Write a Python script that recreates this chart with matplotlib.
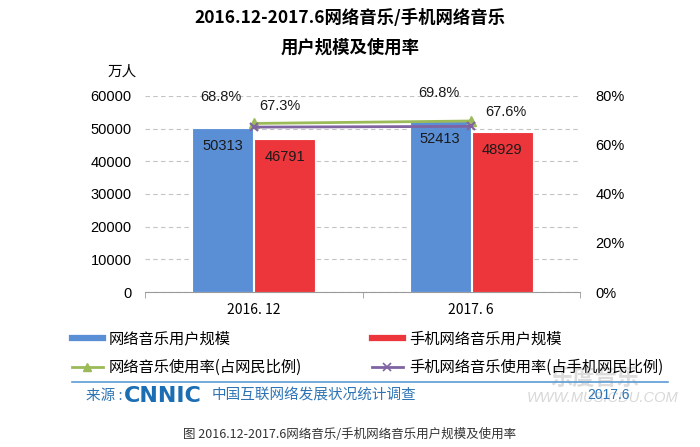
import matplotlib
matplotlib.use("Agg")
import matplotlib.pyplot as plt
from matplotlib.lines import Line2D
import numpy as np

plt.rcParams['font.family'] = ['Liberation Sans', 'Noto Sans CJK SC', 'DejaVu Sans']

categories = ['2016. 12', '2017. 6']
music_users = [50313, 52413]
mobile_users = [46791, 48929]
music_rate = [0.688, 0.698]
mobile_rate = [0.673, 0.676]
left_ticks = [0, 10000, 20000, 30000, 40000, 50000, 60000]
right_ticks = [0, 0.2, 0.4, 0.6, 0.8]
right_labels = ['0%', '20%', '40%', '60%', '80%']

BLUE = '#5A8FD6'
RED = '#EC363C'
GREEN = '#9BBB59'
PURPLE = '#8064A2'
CJK = ['Noto Sans CJK SC', 'DejaVu Sans']

fig = plt.figure(figsize=(7, 4.47), dpi=100)
fig.patch.set_facecolor('white')

ax = fig.add_axes([145/700, 1-292/447, 435/700, 196/447])
ax.set_facecolor('none')
x = np.arange(len(categories))
w = 0.28
b1 = ax.bar(x - 0.1425, music_users, w, color=BLUE, edgecolor='white', linewidth=0.8, zorder=3)
b2 = ax.bar(x + 0.1425, mobile_users, w, color=RED, edgecolor='white', linewidth=0.8, zorder=3)
ax.set_xlim(-0.5, 1.5)
ax.set_ylim(0, 60000)
ax.set_yticks(left_ticks)
ax.set_yticklabels([str(v) for v in left_ticks], fontsize=10.5)
ax.tick_params(axis='y', length=0, pad=9.5)
ax.set_xticks(x)
ax.set_xticklabels(categories, fontsize=10, family=CJK)
ax.tick_params(axis='x', length=0, pad=8)
ax.set_xticks([-0.5, 0.5, 1.5], minor=True)
ax.tick_params(axis='x', which='minor', length=4, color='#9a9a9a', direction='out')
for s in ['top', 'left', 'right']:
    ax.spines[s].set_visible(False)
ax.spines['bottom'].set_color('#9a9a9a')
ax.yaxis.grid(True, color='#c4c4c4', linestyle=(0, (4, 3)), linewidth=0.8, zorder=0)
ax.set_axisbelow(True)

for rect, v in zip(list(b1) + list(b2), music_users + mobile_users):
    ax.annotate(str(v), (rect.get_x() + rect.get_width() / 2, v), xytext=(0, -13),
                textcoords='offset points', ha='center', va='center', fontsize=10.5, color='#1a1a1a', zorder=5)

ax2 = ax.twinx()
ax2.set_ylim(0, 0.8)
ax2.set_yticks(right_ticks)
ax2.set_yticklabels(right_labels, fontsize=10.5)
ax2.tick_params(axis='y', length=0, pad=11)
for s in ['top', 'left', 'right', 'bottom']:
    ax2.spines[s].set_visible(False)
ax2.plot(x, music_rate, color=GREEN, lw=2, marker='^', ms=7, zorder=4)
ax2.plot(x, mobile_rate, color=PURPLE, lw=2, marker='x', ms=6, mew=1.5, zorder=4)

# rate labels
ax2.annotate('68.8%', (x[0], music_rate[0]), xytext=(-24, 19), textcoords='offset points',
             ha='center', va='center', fontsize=10.5, color='#1a1a1a')
ax2.annotate('67.3%', (x[0], mobile_rate[0]), xytext=(19, 15), textcoords='offset points',
             ha='center', va='center', fontsize=10.5, color='#1a1a1a')
ax2.annotate('69.8%', (x[1], music_rate[1]), xytext=(-23, 20), textcoords='offset points',
             ha='center', va='center', fontsize=10.5, color='#1a1a1a')
ax2.annotate('67.6%', (x[1], mobile_rate[1]), xytext=(25, 10), textcoords='offset points',
             ha='center', va='center', fontsize=10.5, color='#1a1a1a')

# titles
fig.text(350/700, 1-18/447, '2016.12-2017.6网络音乐/手机网络音乐', ha='center', va='center',
         fontsize=12.5, fontweight='bold', family=CJK)
fig.text(350/700, 1-48/447, '用户规模及使用率', ha='center', va='center',
         fontsize=12.5, fontweight='bold', family=CJK)
fig.text(122/700, 1-72/447, '万人', ha='center', va='center', fontsize=10.5, family=CJK)

# legend
handles = [Line2D([], [], color=BLUE, lw=4.5),
           Line2D([], [], color=GREEN, lw=2, marker='^', ms=6),
           Line2D([], [], color=RED, lw=4.5),
           Line2D([], [], color=PURPLE, lw=2, marker='x', ms=6, mew=1.2)]
labels = ['网络音乐用户规模', '网络音乐使用率(占网民比例)', '手机网络音乐用户规模', '手机网络音乐使用率(占手机网民比例)']
fig.legend(handles, labels, loc='upper left', bbox_to_anchor=(72/700, 1-330/447), ncol=2,
           frameon=False, borderpad=0, borderaxespad=0, handlelength=2.0, handletextpad=0.4,
           columnspacing=4.6, labelspacing=0.8, prop={'family': CJK, 'size': 11})

# separator and source
fig.add_artist(Line2D([72/700, 668/700], [1-382/447, 1-382/447], color='#5B9BD5', lw=1.2))
SRC = '#2E74B5'
fig.text(86/700, 1-396/447, '来源 :', ha='left', va='center', fontsize=10.5, color=SRC, family=CJK)
fig.text(124/700, 1-396/447, 'CNNIC', ha='left', va='center', fontsize=16, fontweight='heavy',
         color='#1B6DB4', family=['DejaVu Sans'])
fig.text(212/700, 1-396/447, '中国互联网络发展状况统计调查', ha='left', va='center', fontsize=10.5,
         color=SRC, family=CJK)
fig.text(550/700, 1-378/447, '乐度音乐', ha='left', va='center', fontsize=16, fontweight='bold',
         color='#dcdcdc', family=CJK, zorder=0)
fig.text(527/700, 1-398/447, 'WWW.MUSICDU.COM', ha='left', va='center', fontsize=10.5, style='italic',
         color='#d8d8d8', zorder=0)
fig.text(587/700, 1-395/447, '2017.6', ha='left', va='center', fontsize=10, color=SRC, zorder=2)

fig.text(350/700, 1-435/447, '图 2016.12-2017.6网络音乐/手机网络音乐用户规模及使用率', ha='center',
         va='center', fontsize=9, color='#333333', family=CJK)

fig.savefig('out.png', dpi=100, facecolor='white')
